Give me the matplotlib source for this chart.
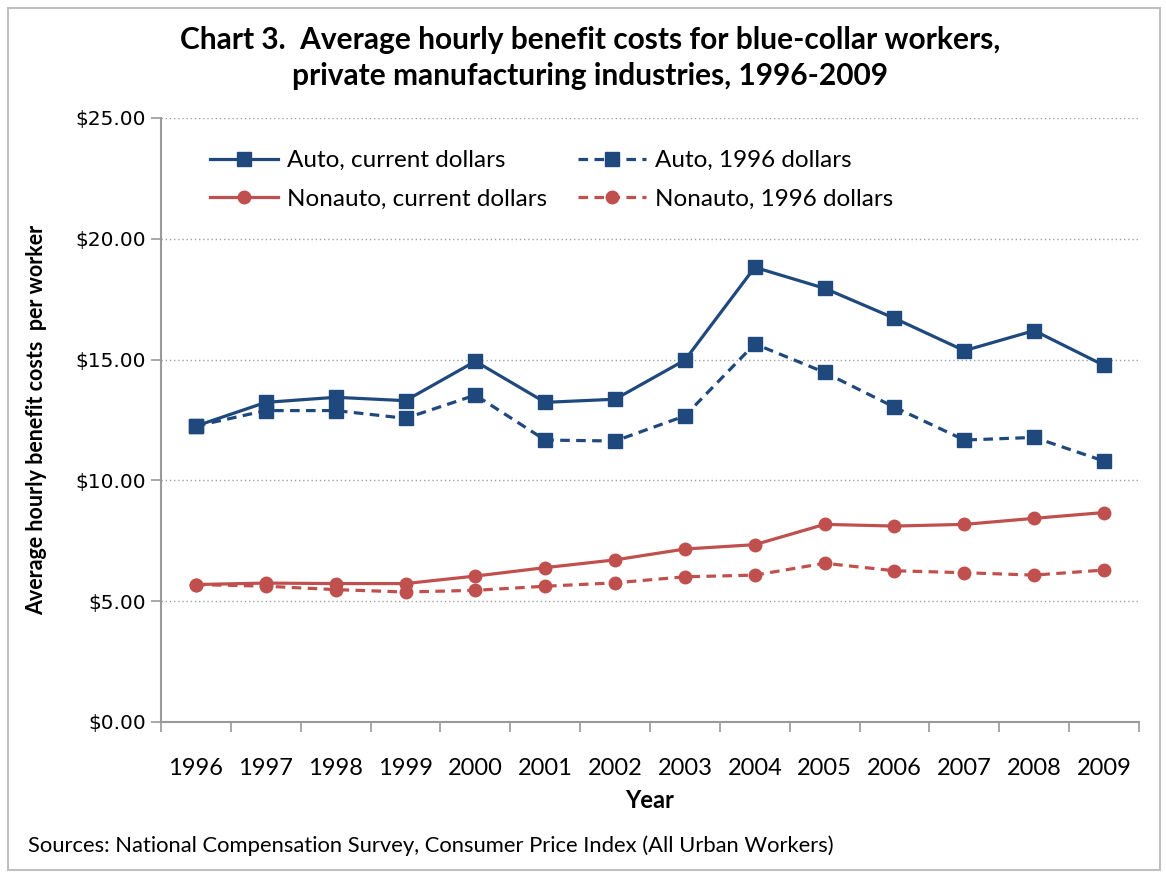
import matplotlib
matplotlib.use("Agg")
import matplotlib.pyplot as plt
from matplotlib.patches import Rectangle
import numpy as np

years = ["1996", "1997", "1998", "1999", "2000", "2001", "2002",
         "2003", "2004", "2005", "2006", "2007", "2008", "2009"]
auto_current = [12.25, 13.23, 13.44, 13.30, 14.93, 13.23, 13.36,
                14.98, 18.82, 17.95, 16.71, 15.37, 16.20, 14.76]
auto_1996 = [12.25, 12.89, 12.89, 12.57, 13.53, 11.67, 11.63,
             12.67, 15.65, 14.47, 13.03, 11.67, 11.78, 10.80]
nonauto_current = [5.69, 5.75, 5.73, 5.73, 6.04, 6.39, 6.71,
                   7.16, 7.34, 8.18, 8.11, 8.18, 8.43, 8.67]
nonauto_1996 = [5.69, 5.62, 5.48, 5.38, 5.45, 5.62, 5.76,
                6.01, 6.08, 6.57, 6.26, 6.18, 6.08, 6.29]
yticks = [0, 5, 10, 15, 20, 25]
ytick_labels = ["$0.00", "$5.00", "$10.00", "$15.00", "$20.00", "$25.00"]

BLUE = "#1F497D"
RED = "#C0504D"
FONT = ["Lato", "DejaVu Sans"]

fig = plt.figure(figsize=(11.66, 8.74), dpi=100)
fig.patch.set_facecolor("white")
fig.patches.append(Rectangle((8 / 1166, 4 / 874), 1 - 14 / 1166, 1 - 12 / 874,
                             transform=fig.transFigure, fill=False,
                             edgecolor="#BFBFBF", linewidth=1.5))

ax = fig.add_axes([161 / 1166, 1 - 722 / 874, (1139 - 161) / 1166, (722 - 118) / 874])
x = np.arange(len(years))

h1, = ax.plot(x, auto_current, color=BLUE, lw=2.3, marker="s", ms=10,
              label="Auto, current dollars")
h2, = ax.plot(x, auto_1996, color=BLUE, lw=2.3, marker="s", ms=10,
              linestyle=(0, (3, 2)), label="Auto, 1996 dollars")
h3, = ax.plot(x, nonauto_current, color=RED, lw=2.3, marker="o", ms=9,
              label="Nonauto, current dollars")
h4, = ax.plot(x, nonauto_1996, color=RED, lw=2.3, marker="o", ms=9,
              linestyle=(0, (3, 2)), label="Nonauto, 1996 dollars")

ax.set_xlim(-0.5, len(years) - 0.5)
ax.set_ylim(0, 25)
ax.set_yticks(yticks)
ax.set_yticklabels(ytick_labels, fontfamily="DejaVu Sans", fontsize=14.5)
ax.set_xticks(x)
ax.set_xticklabels(years, fontfamily=FONT, fontsize=17)
ax.set_xticks(np.arange(-0.5, len(years), 1), minor=True)
ax.tick_params(axis="x", which="major", length=0, pad=26)
ax.tick_params(axis="x", which="minor", length=7, color="#999999", width=1.2)
ax.tick_params(axis="y", length=7, color="#999999", width=1.2, pad=4)

for s in ["top", "right"]:
    ax.spines[s].set_visible(False)
for s in ["left", "bottom"]:
    ax.spines[s].set_color("#999999")
    ax.spines[s].set_linewidth(1.5)

ax.yaxis.grid(True, linestyle=(0, (1, 2)), color="#A0A0A0", linewidth=1)
ax.set_axisbelow(True)

ax.set_xlabel("Year", fontfamily=FONT, fontweight="bold", fontsize=17, labelpad=7)
ax.set_ylabel("Average hourly benefit costs  per worker", fontfamily=FONT,
              fontweight="bold", fontsize=15.5, labelpad=20)

fig.text(0.506, 1 - 40 / 874,
         "Chart 3.  Average hourly benefit costs for blue-collar workers,",
         ha="center", va="center", fontfamily=FONT, fontweight="bold", fontsize=21.5)
fig.text(0.506, 1 - 76 / 874,
         "private manufacturing industries, 1996-2009",
         ha="center", va="center", fontfamily=FONT, fontweight="bold", fontsize=21.5)
fig.text(28 / 1166, 1 - 846 / 874,
         "Sources: National Compensation Survey, Consumer Price Index (All Urban Workers)",
         ha="left", va="center", fontfamily=FONT, fontsize=15.8)

leg = ax.legend(handles=[h1, h3, h2, h4], loc="upper left",
                bbox_to_anchor=(210 / 1166, 1 - 150 / 874),
                bbox_transform=fig.transFigure, ncol=2, frameon=False,
                borderpad=0, borderaxespad=0,
                prop={"family": FONT, "size": 17.5}, handlelength=2.8,
                handletextpad=0.35, columnspacing=1.3, labelspacing=0.72)

fig.savefig("out.png", dpi=100, facecolor="white")
